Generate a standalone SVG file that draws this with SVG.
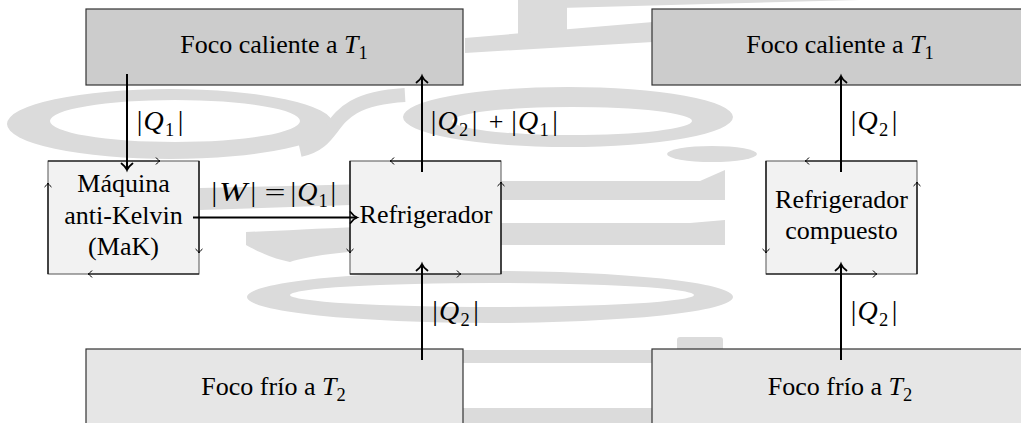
<svg xmlns="http://www.w3.org/2000/svg" width="1021" height="423" viewBox="0 0 1021 423">
<style>
  text { font-family: 'Liberation Serif', 'DejaVu Serif', serif; font-size: 26px; fill: #000; }
  .i { font-style: italic; }
  .m { font-size: 28px; }
  .sub { font-size: 18.5px; }
  .hot { fill: #cccccc; stroke: #333; stroke-width: 1.2; }
  .cold { fill: #e6e6e6; stroke: #333; stroke-width: 1.2; }
  .proc { fill: #f2f2f2; stroke: #555; stroke-width: 1; }
  .cyc { fill: none; stroke: #000; stroke-width: 1.2; marker-end: url(#tick); }
  .flow { fill: none; stroke: #000; stroke-width: 2; marker-end: url(#ah); }
  .wm { fill: #dbdbdb; stroke: none; }
</style>
<defs>
  <marker id="ah" markerUnits="userSpaceOnUse" viewBox="-8 -7 10 14" refX="0" refY="0" markerWidth="10" markerHeight="14" orient="auto" overflow="visible">
    <path d="M-6.5,-5.5 C-4,-2.2 -1.6,-0.6 0,0 C-1.6,0.6 -4,2.2 -6.5,5.5" fill="none" stroke="#000" stroke-width="1.8" stroke-linecap="round"/>
  </marker>
  <marker id="tick" markerUnits="userSpaceOnUse" viewBox="-5 -4 6 8" refX="0" refY="0" markerWidth="6" markerHeight="8" orient="auto" overflow="visible">
    <path d="M-3.8,-3.2 C-2.2,-1.3 -0.9,-0.3 0,0 C-0.9,0.3 -2.2,1.3 -3.8,3.2" fill="none" stroke="#000" stroke-width="1" stroke-linecap="round"/>
  </marker>
</defs>

<g id="watermark">
  <rect class="wm" x="518" y="0" width="49" height="45"/>
  <polygon class="wm" points="465,38 653,22 653,42 465,53"/>
  <polygon class="wm" points="560,0 860,0 560,8"/>
  <path class="wm" fill-rule="evenodd" d="M7,124 A163,35 0 1 0 333,124 A163,35 0 1 0 7,124 Z M50,121 A125,21 0 1 1 300,121 A125,21 0 1 1 50,121 Z"/>
  <path d="M300,150 C345,140 320,100 405,95" fill="none" stroke="#dbdbdb" stroke-width="14"/>
  <path class="wm" fill-rule="evenodd" d="M403,117 A165,30 0 1 0 733,117 A165,30 0 1 0 403,117 Z M452,121 A120,14 0 1 1 692,121 A120,14 0 1 1 452,121 Z"/>
  <ellipse class="wm" cx="712" cy="154" rx="45" ry="8"/>
  <path class="wm" d="M200,188 L500,181 H700 L725,170 V200 H500 L200,210 Z"/>
  <path class="wm" d="M246,232 C300,230 400,224 500,223 H690 L725,220 V245 H500 C400,246 320,252 290,262 C270,258 255,250 246,245 Z"/>
  <path class="wm" fill-rule="evenodd" d="M247,297 A243,26 0 1 0 733,297 A243,26 0 1 0 247,297 Z M290,295 A202,12 0 1 1 694,295 A202,12 0 1 1 290,295 Z"/>
  <rect class="wm" x="440" y="350" width="240" height="13"/>
  <rect class="wm" x="440" y="408" width="240" height="15"/>
  <rect class="wm" x="677" y="337" width="46" height="15" rx="3"/>
</g>

<g id="hot1">
  <rect class="hot" x="86" y="9" width="377" height="76"/>
  <text x="274" y="53" text-anchor="middle">Foco caliente a <tspan class="i">T</tspan><tspan class="sub" dy="6">1</tspan></text>
</g>
<g id="hot2">
  <rect class="hot" x="652" y="9" width="380" height="76"/>
  <text x="840" y="53" text-anchor="middle">Foco caliente a <tspan class="i">T</tspan><tspan class="sub" dy="6">1</tspan></text>
</g>
<g id="cold1">
  <rect class="cold" x="86" y="349" width="377" height="90"/>
  <text x="273.5" y="395" text-anchor="middle">Foco frío a <tspan class="i">T</tspan><tspan class="sub" dy="6">2</tspan></text>
</g>
<g id="cold2">
  <rect class="cold" x="652" y="349" width="380" height="90"/>
  <text x="840" y="395" text-anchor="middle">Foco frío a <tspan class="i">T</tspan><tspan class="sub" dy="6">2</tspan></text>
</g>

<g id="mak">
  <rect class="proc" x="48" y="161" width="151" height="113"/>
  <path class="cyc" d="M48,161 H160"/>
  <path class="cyc" d="M199,161 V253"/>
  <path class="cyc" d="M199,274 H88"/>
  <path class="cyc" d="M48,274 V183"/>
  <text x="123.5" y="192" text-anchor="middle">Máquina</text>
  <text x="123.5" y="223.5" text-anchor="middle">anti-Kelvin</text>
  <text x="123.5" y="255" text-anchor="middle">(MaK)</text>
</g>
<g id="refrig">
  <rect class="proc" x="350" y="161" width="151" height="113"/>
  <path class="cyc" d="M501,161 H390"/>
  <path class="cyc" d="M350,161 V253"/>
  <path class="cyc" d="M350,274 H461"/>
  <path class="cyc" d="M501,274 V182"/>
  <text x="426" y="223" text-anchor="middle">Refrigerador</text>
</g>
<g id="refrig2">
  <rect class="proc" x="766" y="161" width="151" height="113"/>
  <path class="cyc" d="M917,161 H805"/>
  <path class="cyc" d="M766,161 V253"/>
  <path class="cyc" d="M766,274 H877"/>
  <path class="cyc" d="M917,274 V182"/>
  <text x="841.5" y="207.5" text-anchor="middle">Refrigerador</text>
  <text x="841.5" y="238.5" text-anchor="middle">compuesto</text>
</g>

<g id="connectors">
  <path class="flow" d="M127,74 V170"/>
  <path class="flow" d="M422,172 V76"/>
  <path class="flow" d="M193,217.5 H357"/>
  <path class="flow" d="M422,360 V264"/>
  <path class="flow" d="M841,172 V76"/>
  <path class="flow" d="M841,360 V264"/>

  <text class="m" y="129.5"><tspan x="136.7">|</tspan><tspan class="i" x="143.5">Q</tspan><tspan class="sub" x="165" dy="6">1</tspan><tspan x="177.7" dy="-6">|</tspan></text>

  <text class="m" y="129.5"><tspan x="430.7">|</tspan><tspan class="i" x="437.5">Q</tspan><tspan class="sub" x="459" dy="6">2</tspan><tspan x="471.7" dy="-6">|</tspan></text>
  <text x="496" y="129.5" text-anchor="middle">+</text>
  <text class="m" y="129.5"><tspan x="511.2">|</tspan><tspan class="i" x="518">Q</tspan><tspan class="sub" x="539.5" dy="6">1</tspan><tspan x="552.2" dy="-6">|</tspan></text>

  <text class="m" y="129.5"><tspan x="850.7">|</tspan><tspan class="i" x="857.5">Q</tspan><tspan class="sub" x="879" dy="6">2</tspan><tspan x="891.7" dy="-6">|</tspan></text>

  <text class="m" y="319.5"><tspan x="432.2">|</tspan><tspan class="i" x="439">Q</tspan><tspan class="sub" x="460.5" dy="6">2</tspan><tspan x="473.2" dy="-6">|</tspan></text>
  <text class="m" y="319.5"><tspan x="850.7">|</tspan><tspan class="i" x="857.5">Q</tspan><tspan class="sub" x="879" dy="6">2</tspan><tspan x="891.7" dy="-6">|</tspan></text>

  <text class="m" x="211.5" y="201">|</text>
  <text class="m i" x="219" y="201" textLength="28" lengthAdjust="spacingAndGlyphs">W</text>
  <text class="m" x="250.5" y="201">|</text>
  <text x="264.5" y="201" textLength="21" lengthAdjust="spacingAndGlyphs">=</text>
  <text class="m" y="201"><tspan x="290.5">|</tspan><tspan class="i" x="297.3">Q</tspan><tspan class="sub" x="318.5" dy="6">1</tspan><tspan x="330.5" dy="-6">|</tspan></text>
</g>
</svg>
